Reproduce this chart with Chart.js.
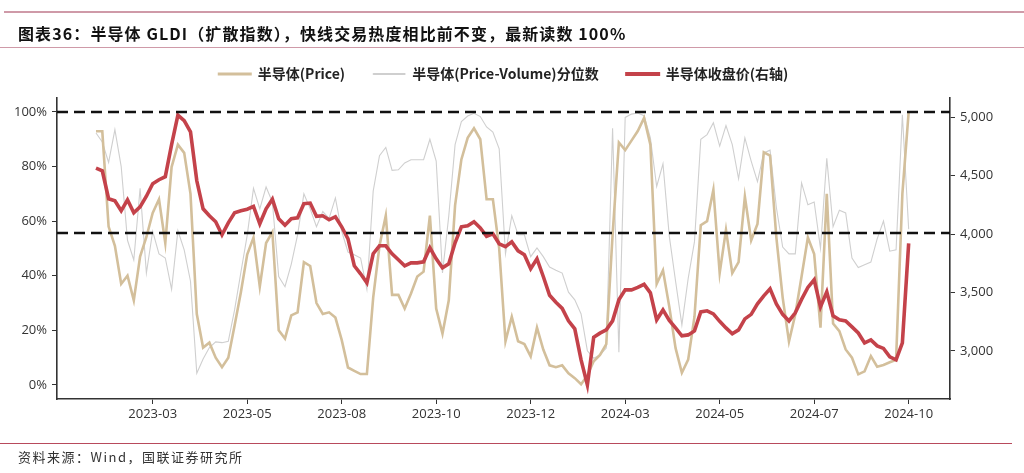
<!DOCTYPE html>
<html lang="zh-CN">
<head>
<meta charset="utf-8">
<title>半导体 GLDI</title>
<script src="https://cdn.jsdelivr.net/npm/chart.js@4.4.1/dist/chart.umd.min.js"></script>
<style>
  html, body { margin: 0; padding: 0; background: #fff; }
  #wrap { position: relative; width: 1024px; height: 473px; overflow: hidden; }
  #chart { position: absolute; left: 0; top: 0; }
  .rule { position: absolute; height: 0; }
  #ruleTop  { top: 11px;  left: 4px; width: 1020px; border-top: 2px solid #cf9aa8; }
  #ruleMid  { top: 47px;  left: 0;   width: 1024px; border-top: 1px solid #cf9aa8; }
  #ruleFoot { top: 443px; left: 0;   width: 1012px; border-top: 1px solid #b84a5c; }
  #title { position: absolute; left: 18px; top: 21px; line-height: 20px; letter-spacing: 1.1px;
           font: bold 16px "Noto Sans CJK SC", sans-serif; color: #111; white-space: nowrap; }
  #foot  { position: absolute; left: 18px; top: 447px; line-height: 16px; letter-spacing: 1.5px;
           font: 13px "Noto Sans CJK SC", sans-serif; color: #333; white-space: nowrap; }
</style>
</head>
<body>
<div id="wrap">
  <canvas id="chart" width="1024" height="473"></canvas>
  <div class="rule" id="ruleTop"></div>
  <div class="rule" id="ruleMid"></div>
  <div class="rule" id="ruleFoot"></div>
  <div id="title">图表36：半导体 GLDI（扩散指数），快线交易热度相比前不变，最新读数 100%</div>
  <div id="foot">资料来源：Wind，国联证券研究所</div>
</div>
<script>
/* ---- dados (~1 ponto a cada 6 px) ---- */
const TICK_LABELS = ['2023-03', '2023-05', '2023-08', '2023-10', '2023-12', '2024-03', '2024-05', '2024-07', '2024-10'];
const TICK_INDEX  = [9, 24, 39, 54, 69, 84, 99, 114, 129];

// 半导体(Price), %
const PRICE = [
  92.9, 92.9, 58, 51, 37, 40, 31, 47, 54.2, 63,
  68, 52, 79.8, 88, 85, 70, 26, 13.7, 15.5, 10,
  6.5, 10, 21.8, 34, 47.8, 54, 36, 52, 56, 20,
  17, 25.5, 26.6, 45, 43.6, 30, 26, 26.6, 24.7, 16.5,
  6.4, 5.2, 4, 4, 32, 51, 62, 33, 33, 28,
  33.5, 39.7, 41.5, 62, 28, 18.8, 31, 65.8, 82.6, 90.5,
  94, 90, 68, 68, 50, 16, 25, 16, 15, 10.5,
  21, 13, 7.2, 6.5, 7.2, 4.3, 2.5, 0.3, 3.5, 8.7,
  11, 15, 55, 88.8, 86, 89.5, 93, 97.8, 88, 37,
  42, 28.7, 13.5, 4.5, 9.3, 25, 58.5, 60, 71.5, 41,
  56.8, 41, 45, 69, 53, 59, 85.2, 84, 54, 32,
  15.9, 25.8, 39.7, 54, 48, 21, 70, 22.5, 19.7, 13,
  10, 3.9, 5, 10.6, 6.7, 7.3, 8.3, 9.2, 70, 100
];

// 半导体(Price-Volume)分位数, %
const PRICE_VOL = [
  92.3, 89, 81.5, 93.5, 80, 53, 45.8, 72, 41, 56.3,
  48, 46.5, 35, 56.5, 49.5, 38, 4.3, 9.5, 13.7, 15.8,
  15.5, 16, 27.5, 41.3, 54.8, 72, 64.5, 72.5, 67, 39.7,
  36, 44.3, 55, 70, 64.5, 58, 63.5, 61, 68.5, 56.3,
  48.7, 47.7, 46.5, 35, 71, 84, 87, 78.6, 78.8, 81.3,
  82.5, 82.5, 82.5, 90, 82, 41, 62, 88, 96.5, 98.5,
  99.5, 98.3, 94.5, 92.6, 86.5, 48, 62, 55, 55, 47,
  50.2, 47, 43.2, 42, 41, 34, 31.2, 26, 12.5, 9.8,
  11, 13.5, 94, 12, 98, 99.2, 99.6, 98.6, 90.5, 72.7,
  81, 54.5, 38, 22, 39, 52.5, 90, 91.7, 96, 87.5,
  95, 88, 75.5, 90.5, 82, 74.5, 85, 86, 65, 50.5,
  48, 48, 74, 66, 67, 50, 83, 58, 64, 63,
  46.5, 43, 44, 45, 53.5, 60, 49, 49.5, 99, 57
];

// 半导体收盘价(右轴)
const CLOSE = [
  4566, 4543, 4303, 4286, 4200, 4294, 4183, 4234, 4325, 4432,
  4466, 4492, 4766, 5020, 4972, 4877, 4457, 4217, 4157, 4106,
  3994, 4097, 4183, 4200, 4213, 4237, 4089, 4217, 4299, 4132,
  4076, 4132, 4140, 4260, 4266, 4153, 4157, 4123, 4149, 4063,
  3960, 3729, 3660, 3583, 3832, 3900, 3900, 3832, 3780, 3729,
  3754, 3754, 3763, 3883, 3789, 3711, 3746, 3926, 4063, 4072,
  4106, 4054, 3982, 4003, 3917, 3892, 3934, 3857, 3823, 3703,
  3789, 3637, 3476, 3416, 3364, 3257, 3189, 2923, 2709, 3116,
  3152, 3180, 3257, 3437, 3523, 3523, 3544, 3570, 3497, 3266,
  3351, 3261, 3197, 3129, 3137, 3171, 3334, 3343, 3317, 3253,
  3197, 3146, 3180, 3274, 3313, 3403, 3472, 3532, 3403, 3313,
  3257, 3326, 3441, 3544, 3609, 3377, 3506, 3300, 3266, 3257,
  3206, 3154, 3069, 3094, 3043, 3021, 2949, 2923, 3069, 3920
];

const LEFT_TICKS  = [0, 20, 40, 60, 80, 100];
const RIGHT_TICKS = [3000, 3500, 4000, 4500, 5000];
const REF_LEVELS  = [100, 55.8];   // linhas tracejadas (eixo esquerdo)

/* ---- helpers ---- */
const pts = arr => arr.map((v, i) => ({ x: i, y: v }));
const fixTicks = list => axis => { axis.ticks = list.map(v => ({ value: v })); };

const refLines = {
  id: 'refLines',
  afterDatasetsDraw(chart) {
    const { ctx, chartArea: a, scales: { y } } = chart;
    ctx.save();
    ctx.strokeStyle = '#111';
    ctx.lineWidth = 2.6;
    ctx.setLineDash([11, 6]);
    REF_LEVELS.forEach(v => {
      const py = Math.round(y.getPixelForValue(v));
      ctx.beginPath();
      ctx.moveTo(a.left, py);
      ctx.lineTo(a.right, py);
      ctx.stroke();
    });
    ctx.restore();
  }
};

// espaço extra entre a legenda e a área do gráfico
const legendGap = {
  id: 'legendGap',
  afterInit(chart) {
    const lg = chart.legend;
    if (!lg) return;
    const fit = lg.fit;
    lg.fit = function () { fit.call(this); this.height += 7; };
  }
};

Chart.defaults.font.family = '"Open Sans", "Noto Sans CJK SC", sans-serif';
Chart.defaults.color = '#333';

const axisGrid = { display: true, drawOnChartArea: false, drawTicks: true, tickLength: 5, color: '#333', lineWidth: 1 };
const axisBorder = { display: true, color: '#333', width: 1.6 };

new Chart(document.getElementById('chart'), {
  type: 'line',
  data: {
    datasets: [
      {
        label: '半导体(Price)',
        data: pts(PRICE),
        yAxisID: 'y',
        borderColor: '#d3bf9b',
        backgroundColor: '#d3bf9b',
        borderWidth: 2.6,
        pointRadius: 0,
        tension: 0,
        order: 1
      },
      {
        label: '半导体(Price-Volume)分位数',
        data: pts(PRICE_VOL),
        yAxisID: 'y',
        borderColor: '#cfcfcf',
        backgroundColor: '#cfcfcf',
        borderWidth: 1.1,
        pointRadius: 0,
        tension: 0,
        order: 2
      },
      {
        label: '半导体收盘价(右轴)',
        data: pts(CLOSE),
        yAxisID: 'y1',
        borderColor: '#c4424a',
        backgroundColor: '#c4424a',
        borderWidth: 3.6,
        pointRadius: 0,
        tension: 0,
        order: 0
      }
    ]
  },
  options: {
    responsive: false,
    animation: false,
    layout: { padding: { top: 39, left: 0, right: 0, bottom: 0 } },
    plugins: {
      tooltip: { enabled: false },
      legend: {
        position: 'top',
        align: 'center',
        fullSize: false,
        labels: {
          boxWidth: 32,
          boxHeight: 1,
          padding: 28,
          color: '#222',
          font: { size: 14, weight: 'bold', family: '"Noto Sans CJK SC", sans-serif' },
          sort: (a, b) => a.datasetIndex - b.datasetIndex,
          generateLabels: chart => Chart.defaults.plugins.legend.labels.generateLabels(chart).map(l => ({
            ...l,
            lineWidth: Math.max(1, chart.data.datasets[l.datasetIndex].borderWidth - 0.6)
          }))
        }
      }
    },
    scales: {
      x: {
        type: 'linear',
        min: -6.19,
        max: 135.56,
        afterBuildTicks: fixTicks(TICK_INDEX),
        afterFit: s => { s.height = 74; },
        grid: axisGrid,
        border: axisBorder,
        ticks: {
          autoSkip: false,
          maxRotation: 0,
          padding: 2,
          font: { size: 13 },
          callback: v => {
            const k = TICK_INDEX.indexOf(v);
            return k >= 0 ? TICK_LABELS[k] : '';
          }
        }
      },
      y: {
        position: 'left',
        min: -5.13,
        max: 105.1,
        afterBuildTicks: fixTicks(LEFT_TICKS),
        afterFit: s => { s.width = 57; },
        grid: axisGrid,
        border: axisBorder,
        ticks: { padding: 5, font: { size: 13 }, callback: v => v + '%' }
      },
      y1: {
        position: 'right',
        min: 2588,
        max: 5166,
        afterBuildTicks: fixTicks(RIGHT_TICKS),
        afterFit: s => { s.width = 74; },
        grid: axisGrid,
        border: axisBorder,
        ticks: { padding: 5, font: { size: 13 } }
      }
    }
  },
  plugins: [refLines, legendGap]
});
</script>
</body>
</html>
